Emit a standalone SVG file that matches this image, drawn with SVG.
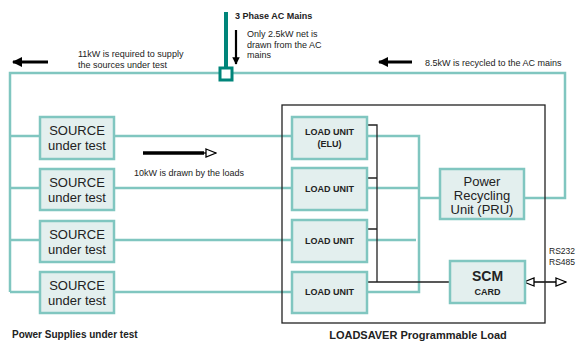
<svg xmlns="http://www.w3.org/2000/svg" width="576" height="341" viewBox="0 0 576 341">
<style>
.box{fill:#e3efee;stroke:#80c6c0;stroke-width:2.5}
.w{fill:none;stroke:#80c6c0;stroke-width:2.5}
.k{fill:none;stroke:#222;stroke-width:1.3}
.t{font-family:"Liberation Sans",Arial,sans-serif;fill:#222}
.s{font-size:9px}
.m{font-size:13px}
.b{font-weight:bold}
</style>
<defs>
<marker id="fa" viewBox="0 0 10 10" refX="9" refY="5" markerWidth="3.4" markerHeight="3.4" orient="auto"><path d="M0,0 L10,5 L0,10 z" fill="#000"/></marker>
<marker id="oa" viewBox="0 0 12 10" refX="11" refY="5" markerWidth="12" markerHeight="10" markerUnits="userSpaceOnUse" orient="auto"><path d="M1,1 L11,5 L1,9 z" fill="#fff" stroke="#000" stroke-width="1.3"/></marker>
<marker id="oa2" viewBox="0 0 12 10" refX="11" refY="5" markerWidth="12" markerHeight="10" markerUnits="userSpaceOnUse" orient="auto-start-reverse"><path d="M1,1 L11,5 L1,9 z" fill="#fff" stroke="#000" stroke-width="1.3"/></marker>
</defs>
<g id="connectors">
<path class="w" d="M10,292 V73 H565 V198 H524"/>
<path class="w" d="M10,136 H40 M10,188 H40 M10,240 H40 M10,292 H40"/>
<path class="w" d="M114,136 H292 M114,188 H292 M114,240 H292 M114,292 H292"/>
<path class="w" d="M367,136 H419 V292 H367 M367,188 H419 M367,240 H416 M419,198 H440"/>
<path class="k" d="M367,125 H377 V282 M367,178 H377 M367,229 H377 M367,282 H450"/>
<path d="M226,12 V68" stroke="#00857a" stroke-width="4" fill="none"/>
<path d="M236,30 V64" stroke="#000" stroke-width="2.2" marker-end="url(#fa)"/>
<path d="M48,62 H13" stroke="#000" stroke-width="3" marker-end="url(#fa)"/>
<path d="M412,62 H379" stroke="#000" stroke-width="3" marker-end="url(#fa)"/>
<path d="M143,153 H204" stroke="#000" stroke-width="3.5"/>
<path d="M200,153 H216" stroke="#000" stroke-width="1.3" marker-end="url(#oa)"/>
<path d="M524,282 H566" stroke="#000" stroke-width="1.3" marker-start="url(#oa2)" marker-end="url(#oa)"/>
</g>
<g id="junction"><rect x="220" y="68" width="12" height="12" fill="#fff" stroke="#00857a" stroke-width="3"/></g>
<g id="loadsaver"><rect x="282" y="105" width="263" height="218" fill="none" stroke="#222" stroke-width="1.3"/></g>
<g id="src1"><rect class="box" x="40" y="117" width="74" height="42"/><text class="t m" x="77" y="135" text-anchor="middle">SOURCE</text><text class="t m" x="77" y="150" text-anchor="middle">under test</text></g>
<g id="src2"><rect class="box" x="40" y="169" width="74" height="41"/><text class="t m" x="77" y="187" text-anchor="middle">SOURCE</text><text class="t m" x="77" y="202" text-anchor="middle">under test</text></g>
<g id="src3"><rect class="box" x="40" y="221" width="74" height="41"/><text class="t m" x="77" y="239" text-anchor="middle">SOURCE</text><text class="t m" x="77" y="254" text-anchor="middle">under test</text></g>
<g id="src4"><rect class="box" x="40" y="272" width="74" height="41"/><text class="t m" x="77" y="290" text-anchor="middle">SOURCE</text><text class="t m" x="77" y="305" text-anchor="middle">under test</text></g>
<g id="lu1"><rect class="box" x="292" y="117" width="75" height="42"/><text class="t s b" x="329.5" y="135" text-anchor="middle">LOAD UNIT</text><text class="t s b" x="329.5" y="147" text-anchor="middle">(ELU)</text></g>
<g id="lu2"><rect class="box" x="292" y="168" width="75" height="42"/><text class="t s b" x="329.5" y="192" text-anchor="middle">LOAD UNIT</text></g>
<g id="lu3"><rect class="box" x="292" y="220" width="75" height="42"/><text class="t s b" x="329.5" y="244" text-anchor="middle">LOAD UNIT</text></g>
<g id="lu4"><rect class="box" x="292" y="272" width="75" height="41"/><text class="t s b" x="329.5" y="295" text-anchor="middle">LOAD UNIT</text></g>
<g id="pru"><rect class="box" x="440" y="169" width="84" height="50"/><text class="t m" x="482" y="186" text-anchor="middle">Power</text><text class="t m" x="482" y="200" text-anchor="middle">Recycling</text><text class="t m" x="482" y="214" text-anchor="middle">Unit (PRU)</text></g>
<g id="scm"><rect class="box" x="450" y="261" width="75" height="42"/><text class="t b" font-size="14" x="487.5" y="281" text-anchor="middle">SCM</text><text class="t s b" x="487.5" y="295" text-anchor="middle">CARD</text></g>
<g id="labels">
<text class="t s b" x="235" y="19">3 Phase AC Mains</text>
<text class="t s" x="247" y="37">Only 2.5kW net is</text>
<text class="t s" x="247" y="47.5">drawn from the AC</text>
<text class="t s" x="247" y="58">mains</text>
<text class="t s" x="78" y="57">11kW is required to supply</text>
<text class="t s" x="78" y="68">the sources under test</text>
<text class="t s" x="425" y="66">8.5kW is recycled to the AC mains</text>
<text class="t s" x="134" y="176">10kW is drawn by the loads</text>
<text class="t" font-size="8.5" x="549" y="254">RS232</text>
<text class="t" font-size="8.5" x="549" y="265">RS485</text>
<text class="t b" font-size="10" x="12" y="338">Power Supplies under test</text>
<text class="t b" font-size="11" x="418" y="339" text-anchor="middle">LOADSAVER Programmable Load</text>
</g>
</svg>
